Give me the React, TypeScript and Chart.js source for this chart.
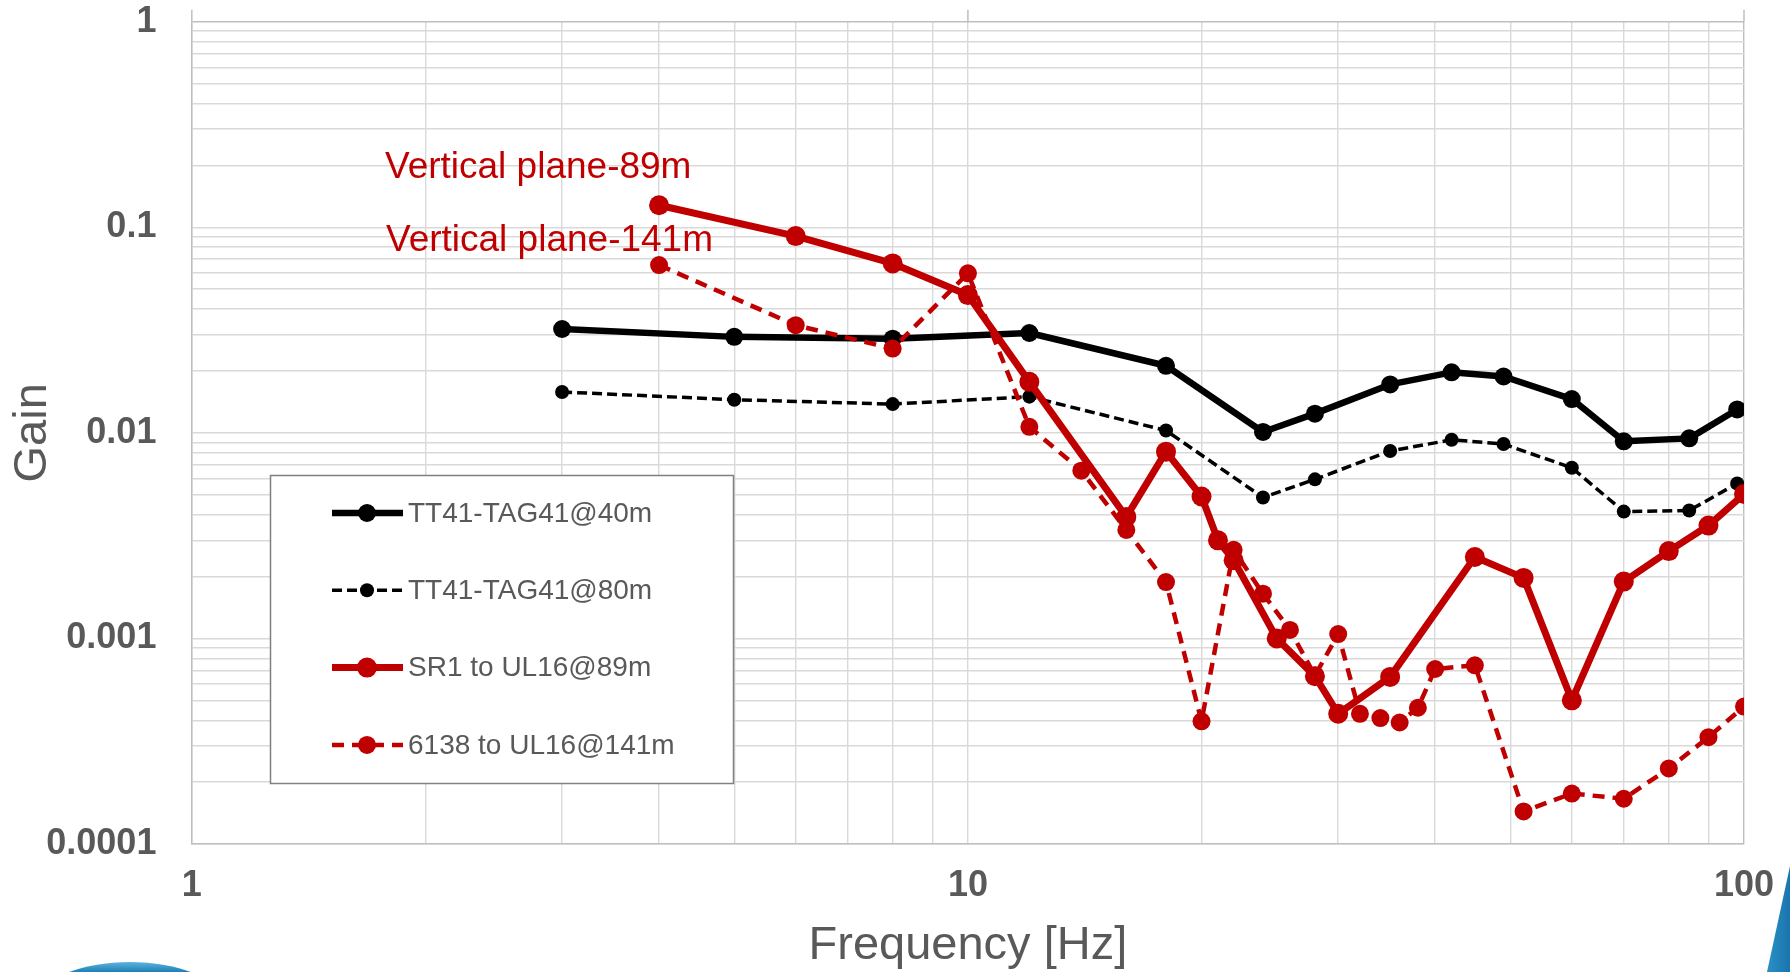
import React, { useEffect, useRef } from 'react';
import { Chart, registerables } from 'chart.js';

Chart.register(...registerables);

const FONT = '"Liberation Sans", Arial, Helvetica, sans-serif';
const GREY_TEXT = '#595959';
const RED = '#C00000';
const BLACK = '#000000';

// ---- data ----
const tt41Freq = [3, 5, 8, 12, 18, 24, 28, 35, 42, 49, 60, 70, 85, 98];
const tt41Gain40 = [0.032, 0.0293, 0.0287, 0.0306, 0.0212, 0.0101, 0.0124, 0.0172, 0.0197, 0.0188, 0.0146, 0.0091, 0.0094, 0.013];
const tt41Gain80 = [0.0158, 0.0145, 0.0138, 0.015, 0.01026, 0.00485, 0.00594, 0.00816, 0.00925, 0.00882, 0.00676, 0.00414, 0.00419, 0.00567];

const sr1Freq = [4, 6, 8, 10, 12, 16, 18, 20, 21, 22, 25, 28, 30, 35, 45, 52, 60, 70, 80, 90, 100];
const sr1Gain = [0.128, 0.0906, 0.0667, 0.0468, 0.0177, 0.0039, 0.0081, 0.0049, 0.003, 0.0024, 0.001, 0.000655, 0.00043, 0.00065, 0.00249, 0.00197, 0.0005, 0.00189, 0.00266, 0.00354, 0.00504];

const m6138Freq = [4, 6, 8, 10, 12, 14, 16, 18, 20, 22, 24, 26, 28, 30, 32, 34, 36, 38, 40, 45, 52, 60, 70, 80, 90, 100];
const m6138Gain = [0.0655, 0.0334, 0.0257, 0.0597, 0.0107, 0.00655, 0.00337, 0.00188, 0.000395, 0.0027, 0.00165, 0.0011, 0.00066, 0.00105, 0.00043, 0.00041, 0.00039, 0.00046, 0.00071, 0.00074, 0.000144, 0.000176, 0.000166, 0.000233, 0.000331, 0.000466];

const seriesNames = ['TT41-TAG41@40m', 'TT41-TAG41@80m', 'SR1 to UL16@89m', '6138 to UL16@141m'];
const annotationLabels = ['Vertical plane-89m', 'Vertical plane-141m'];
const xTickLabels = ['1', '10', '100'];
const yTickLabels = ['0.0001', '0.001', '0.01', '0.1', '1'];
const xTitle = 'Frequency [Hz]';
const yTitle = 'Gain';

// ---- helpers ----
function logTicks(min: number, max: number) {
  const out: { value: number }[] = [];
  const e0 = Math.round(Math.log10(min));
  const e1 = Math.round(Math.log10(max));
  for (let e = e0; e < e1; e++) {
    for (let m = 1; m < 10; m++) out.push({ value: parseFloat((m * Math.pow(10, e)).toPrecision(6)) });
  }
  out.push({ value: max });
  return out;
}

function labelFor(labels: string[], v: number) {
  const found = labels.find((l) => Math.abs(parseFloat(l) - v) / v < 1e-6);
  return found ?? '';
}

const toPoints = (xs: number[], ys: number[]) => xs.map((x, i) => ({ x, y: ys[i] }));

const extrasPlugin = {
  id: 'extras',
  beforeDraw(chart: any) {
    const { ctx, width, height } = chart;
    ctx.save();
    ctx.fillStyle = '#ffffff';
    ctx.fillRect(0, 0, width, height);
    ctx.restore();
  },
  afterDraw(chart: any) {
    const { ctx, chartArea, scales } = chart;
    ctx.save();

    // short tick extensions above the plot at the decades
    ctx.strokeStyle = '#bfbfbf';
    ctx.lineWidth = 1.5;
    for (const l of xTickLabels) {
      const x = scales.x.getPixelForValue(parseFloat(l));
      ctx.beginPath();
      ctx.moveTo(x, chartArea.top - 12);
      ctx.lineTo(x, chartArea.top);
      ctx.stroke();
    }

    // annotations
    ctx.fillStyle = RED;
    ctx.font = `37px ${FONT}`;
    ctx.textAlign = 'left';
    ctx.textBaseline = 'middle';
    ctx.fillText(annotationLabels[0], 385, 168);
    ctx.fillText(annotationLabels[1], 386, 241);

    // legend box
    const bx = 270.5, by = 475.5, bw = 463, bh = 308;
    ctx.fillStyle = '#ffffff';
    ctx.fillRect(bx, by, bw, bh);
    ctx.strokeStyle = '#808080';
    ctx.lineWidth = 1.5;
    ctx.strokeRect(bx, by, bw, bh);

    chart.data.datasets.forEach((ds: any, i: number) => {
      const y = 513 + i * 77.3;
      ctx.save();
      ctx.strokeStyle = ds.borderColor;
      ctx.lineWidth = ds.borderWidth;
      ctx.setLineDash(ds.borderDash || []);
      ctx.beginPath();
      ctx.moveTo(332, y);
      ctx.lineTo(403, y);
      ctx.stroke();
      ctx.setLineDash([]);
      ctx.fillStyle = ds.pointBackgroundColor;
      ctx.beginPath();
      ctx.arc(367, y, ds.pointRadius, 0, Math.PI * 2);
      ctx.fill();
      ctx.restore();
      ctx.fillStyle = GREY_TEXT;
      ctx.font = `28px ${FONT}`;
      ctx.textAlign = 'left';
      ctx.textBaseline = 'middle';
      ctx.fillText(ds.label, 408, y + 1);
    });

    // decorative template shapes
    const g1 = ctx.createLinearGradient(0, 960, 0, 972);
    g1.addColorStop(0, '#6cc0e4');
    g1.addColorStop(1, '#1d7fb8');
    ctx.fillStyle = g1;
    ctx.beginPath();
    ctx.ellipse(130, 1000, 90, 38, 0, 0, Math.PI * 2);
    ctx.fill();

    const g2 = ctx.createLinearGradient(1768, 0, 1790, 0);
    g2.addColorStop(0, '#2a8fc6');
    g2.addColorStop(1, '#1b74ad');
    ctx.fillStyle = g2;
    ctx.beginPath();
    ctx.moveTo(1790, 866);
    ctx.lineTo(1767, 972);
    ctx.lineTo(1790, 972);
    ctx.closePath();
    ctx.fill();

    ctx.restore();
  },
};

export default function App() {
  const canvasRef = useRef<HTMLCanvasElement | null>(null);

  useEffect(() => {
    if (!canvasRef.current) return;
    const gridColor = (major: string) => (c: any) => {
      const v = c.tick ? c.tick.value : 0;
      return Math.abs(v - parseFloat(major)) < 1e-9 ? '#bfbfbf' : '#d9d9d9';
    };
    const chart = new Chart(canvasRef.current, {
      type: 'line',
      data: {
        datasets: [
          {
            label: seriesNames[0],
            data: toPoints(tt41Freq, tt41Gain40),
            borderColor: BLACK,
            backgroundColor: BLACK,
            pointBackgroundColor: BLACK,
            borderWidth: 6.5,
            pointRadius: 9,
            pointBorderWidth: 0,
            order: 3,
          },
          {
            label: seriesNames[1],
            data: toPoints(tt41Freq, tt41Gain80),
            borderColor: BLACK,
            backgroundColor: BLACK,
            pointBackgroundColor: BLACK,
            borderWidth: 3.5,
            borderDash: [10, 5],
            pointRadius: 7,
            pointBorderWidth: 0,
            order: 2,
          },
          {
            label: seriesNames[2],
            data: toPoints(sr1Freq, sr1Gain),
            borderColor: RED,
            backgroundColor: RED,
            pointBackgroundColor: RED,
            borderWidth: 7,
            pointRadius: 10,
            pointBorderWidth: 0,
            order: 1,
          },
          {
            label: seriesNames[3],
            data: toPoints(m6138Freq, m6138Gain),
            borderColor: RED,
            backgroundColor: RED,
            pointBackgroundColor: RED,
            borderWidth: 4.5,
            borderDash: [12, 8],
            pointRadius: 9,
            pointBorderWidth: 0,
            order: 0,
          },
        ] as any,
      },
      options: {
        animation: false,
        responsive: true,
        maintainAspectRatio: false,
        devicePixelRatio: 1,
        events: [],
        layout: { padding: { top: 21.7, right: 46, left: 0, bottom: 0 } },
        elements: { line: { tension: 0, borderJoinStyle: 'round' } },
        plugins: { legend: { display: false }, tooltip: { enabled: false } },
        scales: {
          x: {
            type: 'logarithmic',
            min: 1,
            max: 100,
            afterBuildTicks: (s: any) => {
              s.ticks = logTicks(1, 100);
            },
            afterFit: (s: any) => {
              s.height = 128;
              s.paddingLeft = 0;
              s.paddingRight = 0;
              s.paddingTop = 0;
              s.paddingBottom = 0;
            },
            ticks: {
              autoSkip: false,
              maxRotation: 0,
              minRotation: 0,
              padding: 20,
              color: GREY_TEXT,
              font: { family: FONT, size: 36, weight: 'bold' },
              callback: (v: any) => labelFor(xTickLabels, Number(v)),
            },
            grid: { color: gridColor('100'), lineWidth: 1.4, drawTicks: false },
            border: { color: '#bfbfbf', width: 1.5 },
            title: {
              display: true,
              text: xTitle,
              color: GREY_TEXT,
              font: { family: FONT, size: 47 },
              padding: { top: 0, bottom: -2 },
            },
          },
          y: {
            type: 'logarithmic',
            min: 0.0001,
            max: 1,
            afterBuildTicks: (s: any) => {
              s.ticks = logTicks(0.0001, 1);
            },
            afterFit: (s: any) => {
              s.width = 191.8;
              s.paddingLeft = 0;
              s.paddingRight = 0;
              s.paddingTop = 0;
              s.paddingBottom = 0;
            },
            ticks: {
              autoSkip: false,
              padding: 35.4,
              color: GREY_TEXT,
              font: { family: FONT, size: 36, weight: 'bold' },
              callback: (v: any) => labelFor(yTickLabels, Number(v)),
            },
            grid: { color: gridColor('1'), lineWidth: 1.4, drawTicks: false },
            border: { color: '#bfbfbf', width: 1.5 },
            title: {
              display: true,
              text: yTitle,
              color: GREY_TEXT,
              font: { family: FONT, size: 47 },
              padding: { top: 5, bottom: 0 },
            },
          },
        },
      } as any,
      plugins: [extrasPlugin],
    });
    return () => chart.destroy();
  }, []);

  return (
    <div style={{ position: 'fixed', left: 0, top: 0, width: 1790, height: 972, background: '#fff' }}>
      <canvas ref={canvasRef} />
    </div>
  );
}
